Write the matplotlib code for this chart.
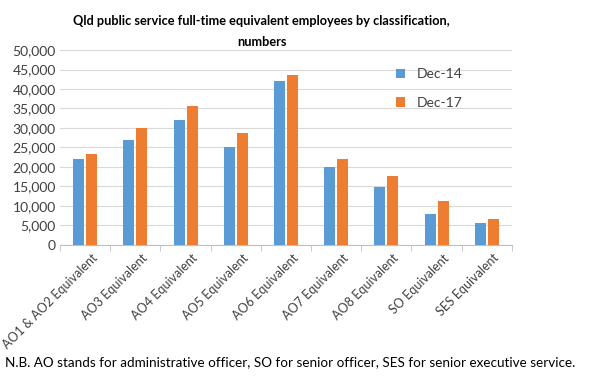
import numpy as np
import matplotlib.pyplot as plt
import matplotlib.transforms as mtransforms
from matplotlib.ticker import FuncFormatter, FixedLocator

categories = ["AO1 & AO2 Equivalent", "AO3 Equivalent", "AO4 Equivalent", "AO5 Equivalent",
              "AO6 Equivalent", "AO7 Equivalent", "AO8 Equivalent", "SO Equivalent", "SES Equivalent"]
dec14 = [22000, 26900, 32000, 25100, 42000, 20000, 14900, 7900, 5600]
dec17 = [23300, 30000, 35600, 28700, 43500, 22000, 17700, 11300, 6700]

plt.rcParams['font.family'] = ['Lato', 'DejaVu Sans']

fig = plt.figure(figsize=(6.13, 3.79), dpi=100)
ax = fig.add_axes([0.098, 0.354, 0.737, 0.514])

x = np.arange(len(categories))
w = 0.22
ax.bar(x - 0.13, dec14, w, color="#5b9bd5", label="Dec-14", zorder=3)
ax.bar(x + 0.13, dec17, w, color="#ed7d31", label="Dec-17", zorder=3)

ax.set_xlim(-0.5, len(categories) - 0.5)
ax.set_ylim(0, 50000)
ax.set_yticks(range(0, 50001, 5000))
ax.yaxis.set_major_formatter(FuncFormatter(lambda v, p: f"{int(v):,}"))
ax.grid(axis="y", color="#d9d9d9", linewidth=0.8, zorder=0)
for s in ["top", "right", "left"]:
    ax.spines[s].set_visible(False)
ax.spines["bottom"].set_color("#bfbfbf")
ax.tick_params(axis="y", length=0, labelsize=10, colors="#404040", pad=3)
ax.set_xticks(x)
ax.set_xticklabels(categories, rotation=45, ha="right", rotation_mode="anchor", fontsize=9, color="#404040")
ax.tick_params(axis="x", length=0, pad=5)
shift = mtransforms.ScaledTranslation(6 / 100, 0, fig.dpi_scale_trans)
for lab in ax.get_xticklabels():
    lab.set_transform(lab.get_transform() + shift)
ax.xaxis.set_minor_locator(FixedLocator(np.arange(-0.5, len(categories), 1.0)))
ax.tick_params(axis="x", which="minor", length=4, color="#bfbfbf")

ax.legend(loc="upper left", bbox_to_anchor=(0.715, 0.97), frameon=False, fontsize=10,
          handlelength=0.7, handleheight=0.7, labelspacing=1.2, labelcolor="#404040")

fig.text(0.427, 0.918, "Qld public service full-time equivalent employees by classification,\nnumbers",
         ha="center", va="center", fontsize=9.2, fontweight="bold", linespacing=1.9)
fig.text(0.008, 0.045, "N.B. AO stands for administrative officer, SO for senior officer, SES for senior executive service.",
         ha="left", va="center", fontsize=9.7)

fig.savefig("out.png", dpi=100)
